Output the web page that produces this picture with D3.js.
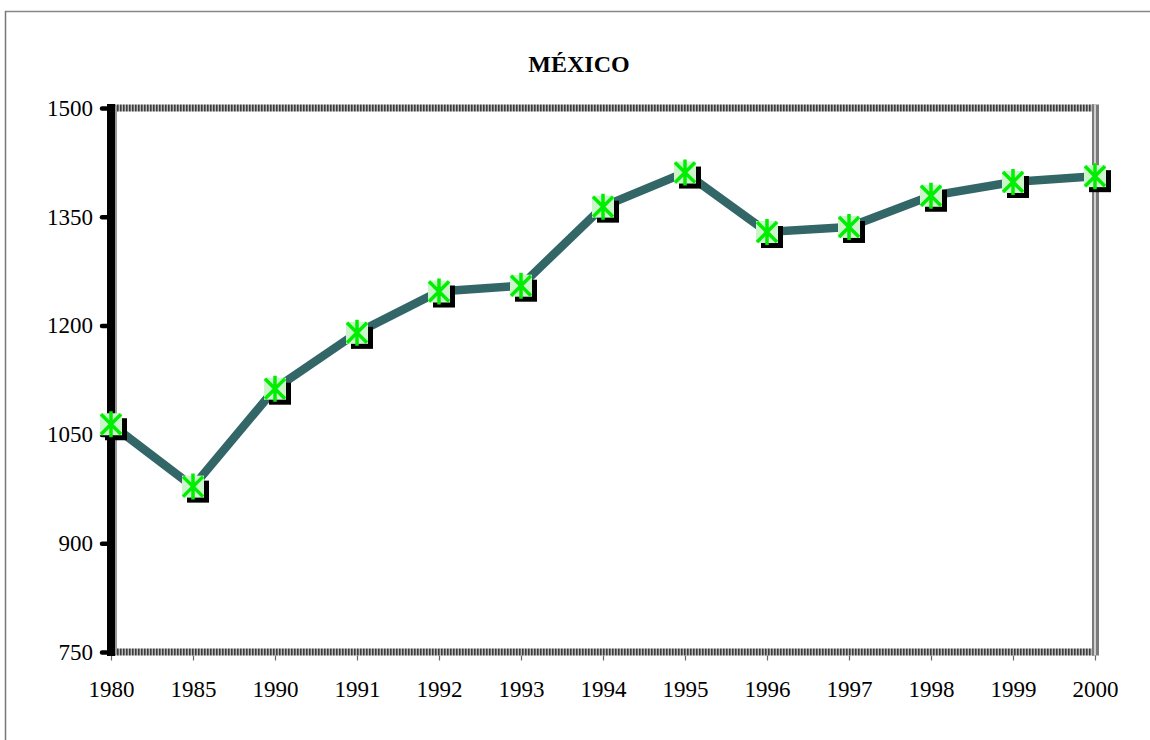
<!DOCTYPE html>
<html><head><meta charset="utf-8">
<script src="https://cdn.jsdelivr.net/npm/d3@7"></script>
<style>body{margin:0;background:#fff}</style>
</head><body>
<script>
const title = "MÉXICO";
const years = ["1980","1985","1990","1991","1992","1993","1994","1995","1996","1997","1998","1999","2000"];
const values = [1064, 978, 1113, 1190, 1247, 1255, 1364, 1411, 1329, 1336, 1379, 1398, 1406];
const yTicks = [750, 900, 1050, 1200, 1350, 1500];

const W = 1150, H = 740;
const svg = d3.select("body").append("svg").attr("width", W).attr("height", H);
const defs = svg.append("defs");
const pat = defs.append("pattern").attr("id","hatchH").attr("width",3).attr("height",8).attr("patternUnits","userSpaceOnUse");
pat.append("rect").attr("width",3).attr("height",8).attr("fill","#b8b8b8");
pat.append("rect").attr("width",1.6).attr("height",8).attr("fill","#3c3c3c");

// outer border
svg.append("line").attr("x1",5).attr("x2",W).attr("y1",11.5).attr("y2",11.5).attr("stroke","#888").attr("stroke-width",1.5);
svg.append("line").attr("x1",5.5).attr("x2",5.5).attr("y1",11).attr("y2",H).attr("stroke","#777").attr("stroke-width",1.5);

const L = 111, R = 1095, T = 108, B = 652;
const x = d3.scalePoint().domain(years).range([L, R]);
const y = d3.scaleLinear().domain([750, 1500]).range([B, T]);
const font = "Liberation Serif, Times New Roman, serif";

svg.append("text").attr("x", 579).attr("y", 72).attr("text-anchor","middle")
  .attr("font-family",font).attr("font-weight","bold").attr("font-size",24).text(title);

// top hatched border
svg.append("rect").attr("x",L+4).attr("y",T-3.5).attr("width",R-L-4).attr("height",7).attr("fill","url(#hatchH)");
// bottom hatched border
svg.append("rect").attr("x",L+4).attr("y",B-3.5).attr("width",R-L-4).attr("height",7).attr("fill","url(#hatchH)");
// right double border
svg.append("rect").attr("x",R-3).attr("y",T-3.5).attr("width",7).attr("height",B-T+7).attr("fill","#7a7a7a");
svg.append("rect").attr("x",R-1).attr("y",T-3.5).attr("width",2).attr("height",B-T+7).attr("fill","#d0d0d0");

// x axis
const xAxis = svg.append("g").attr("transform",`translate(0,${B+3.5})`)
  .call(d3.axisBottom(x).tickSize(5).tickPadding(20));
xAxis.select(".domain").remove();
xAxis.selectAll(".tick line").attr("stroke","#666").attr("stroke-width",1.2);
xAxis.selectAll("text").attr("font-family",font).attr("font-size",23).attr("fill","#000");

// y axis
const yAxis = svg.append("g").attr("transform",`translate(107,0)`)
  .call(d3.axisLeft(y).tickValues(yTicks).tickSize(5).tickPadding(9).tickFormat(d3.format("d")));
yAxis.select(".domain").remove();
yAxis.selectAll(".tick line").attr("stroke","#000").attr("stroke-width",4.5).attr("stroke-linecap","round");
yAxis.selectAll("text").attr("font-family",font).attr("font-size",23).attr("fill","#000");
svg.append("rect").attr("x",107).attr("y",T-4).attr("width",8).attr("height",B-T+8).attr("fill","#000");
svg.append("rect").attr("x",115).attr("y",T-2).attr("width",2).attr("height",B-T+4).attr("fill","#999");

// line
const line = d3.line().x((d,i)=>x(years[i])).y(d=>y(d));
svg.append("path").datum(values).attr("d",line).attr("fill","none")
  .attr("stroke","#336666").attr("stroke-width",8.5).attr("stroke-linejoin","miter");

// markers
const s = 11;
const m = svg.append("g").selectAll("g").data(values).join("g")
  .attr("transform",(d,i)=>`translate(${x(years[i])},${y(d)})`);
m.append("rect").attr("x",-s+5).attr("y",-s+5).attr("width",2*s).attr("height",2*s).attr("fill","#000");
m.append("rect").attr("x",-s).attr("y",-s).attr("width",2*s).attr("height",2*s).attr("fill","#ccf5cc");
m.append("path").attr("d",`M${-s+1},${-s+1}L${s-1},${s-1}M${s-1},${-s+1}L${-s+1},${s-1}M0,${-s-2}L0,${s+2}`)
  .attr("stroke","#00ee00").attr("stroke-width",3.5);
</script>
</body></html>
